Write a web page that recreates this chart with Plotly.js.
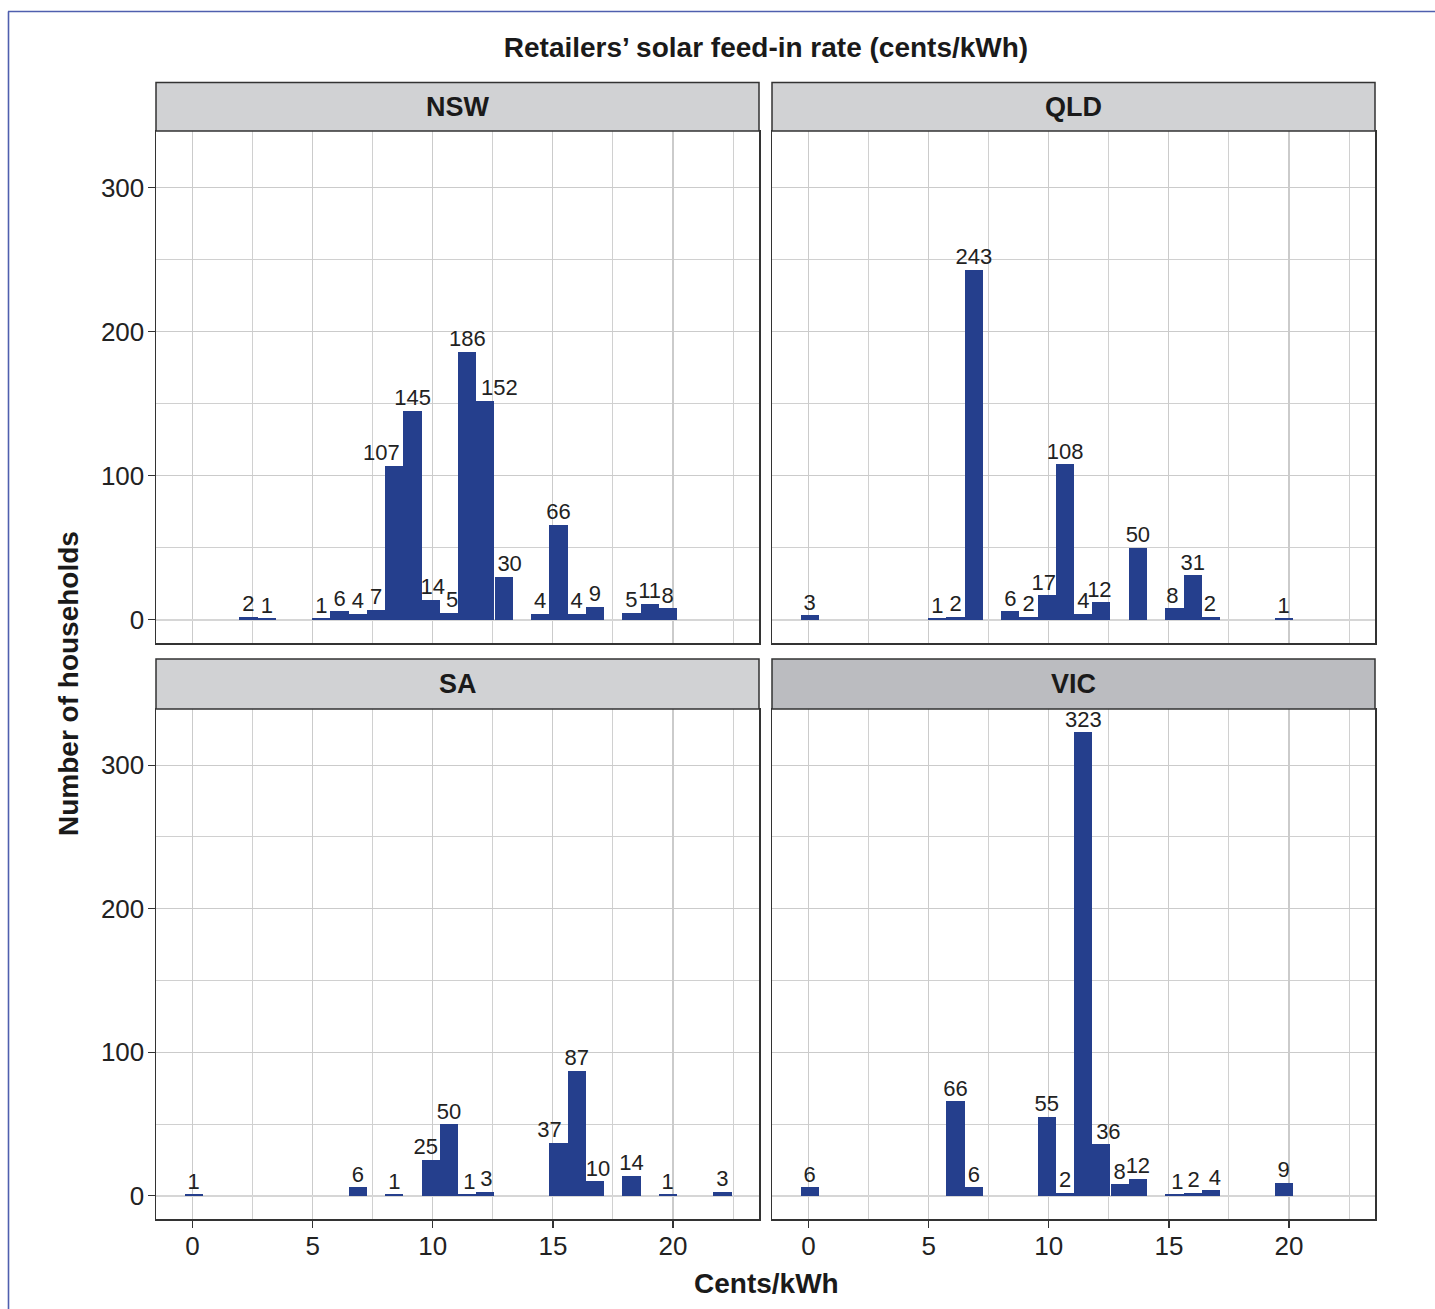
<!DOCTYPE html>
<html>
<head>
<meta charset="utf-8">
<script src="https://cdn.plot.ly/plotly-3.0.1.min.js"></script>
<style>
  html, body { margin: 0; padding: 0; background: #ffffff; }
  #chart { width: 1435px; height: 1309px; }
</style>
</head>
<body>
<div id="chart"></div>
<script>
// ---- Data (bin centre in cents/kWh, number of households) ----
const states = ["NSW", "QLD", "SA", "VIC"];

const nswRate  = [2.33, 3.09, 5.36, 6.12, 6.88, 7.64, 8.40, 9.16, 9.92, 10.68, 11.44, 12.19, 12.95, 14.47, 15.23, 15.99, 16.75, 18.27, 19.03, 19.78];
const nswCount = [2, 1, 1, 6, 4, 7, 107, 145, 14, 5, 186, 152, 30, 4, 66, 4, 9, 5, 11, 8];

const qldRate  = [0.05, 5.36, 6.12, 6.88, 8.40, 9.16, 9.92, 10.68, 11.44, 12.19, 13.71, 15.23, 15.99, 16.75, 19.78];
const qldCount = [3, 1, 2, 243, 6, 2, 17, 108, 4, 12, 50, 8, 31, 2, 1];

const saRate   = [0.05, 6.88, 8.40, 9.92, 10.68, 11.44, 12.19, 15.23, 15.99, 16.75, 18.27, 19.78, 22.06];
const saCount  = [1, 6, 1, 25, 50, 1, 3, 37, 87, 10, 14, 1, 3];

const vicRate  = [0.05, 6.12, 6.88, 9.92, 10.68, 11.44, 12.19, 12.95, 13.71, 15.23, 15.99, 16.75, 19.78];
const vicCount = [6, 66, 6, 55, 2, 323, 36, 8, 12, 1, 2, 4, 9];

const xTickVals = [0, 5, 10, 15, 20];
const xTickText = ["0", "5", "10", "15", "20"];
const yTickVals = [0, 100, 200, 300];
const yTickText = ["0", "100", "200", "300"];

const titleText = "Retailers\u2019 solar feed-in rate (cents/kWh)";
const xTitleText = "Cents/kWh";
const yTitleText = "Number of households";

// ---- Styling ----
const W = 1435, H = 1309;
const FONT = "Liberation Sans, Arial, Helvetica, sans-serif";
const BAR = "#253f8d";
const BINW = 0.759;
const PX_PER_UNIT = 24.02;
const px = v => v / W;
const py = v => 1 - v / H;

// horizontal label nudges (pixels) so overlapping count labels sit apart, as in the original
const labelNudgePx = [
  [0, 0, 0, 0, 0, 0, -13, 0, 2, 3, 0, 14, 6, 0, 0, 0, 0, 0, 0, 0],
  [0, 0, 0, 0, 0, 0, -3, 0, 0, -2, 0, -2, 0, -1, 0],
  [0, 0, 0, -5, 0, 2, 1, -9, 0, 3, 0, 0, 0],
  [0, 0, 0, 0, 0, 0, 7, 0, 0, 3, 1, 4, 0]
];

// panel pixel geometry
const colX = [[156, 759], [772, 1375]];
const rowY = [[131, 643], [709, 1219]];   // plot area top/bottom
const stripY = [[82.5, 131], [659, 709]];
const stripFill = ["#d1d2d4", "#d1d2d4", "#d1d2d4", "#bbbcc0"];

const rates = [nswRate, qldRate, saRate, vicRate];
const counts = [nswCount, qldCount, saCount, vicCount];

const traces = [];
const layout = {
  width: W, height: H,
  margin: {l: 0, r: 0, t: 0, b: 0},
  paper_bgcolor: "#ffffff",
  plot_bgcolor: "#ffffff",
  showlegend: false,
  bargap: 0,
  font: {family: FONT, color: "#222222"},
  title: {
    text: titleText,
    font: {family: FONT, size: 28, color: "#1a1a1a", weight: "bold"},
    xref: "container", yref: "container",
    x: 766 / W, y: 1 - 47 / H, xanchor: "center", yanchor: "middle"
  },
  shapes: [],
  annotations: []
};

states.forEach((st, i) => {
  const col = i % 2, row = Math.floor(i / 2);
  const n = i + 1;
  const xa = "x" + (n === 1 ? "" : n);
  const ya = "y" + (n === 1 ? "" : n);
  traces.push({
    type: "bar",
    x: rates[i], y: counts[i],
    width: BINW,
    marker: {color: BAR, line: {width: 0}},
    xaxis: xa, yaxis: ya,
    hoverinfo: "x+y"
  });
  traces.push({
    type: "scatter", mode: "text",
    x: rates[i].map((r, j) => r + labelNudgePx[i][j] / PX_PER_UNIT),
    y: counts[i],
    text: counts[i].map(String),
    textposition: "top center",
    textfont: {family: FONT, size: 22, color: "#222222"},
    cliponaxis: false,
    xaxis: xa, yaxis: ya,
    hoverinfo: "skip"
  });

  const xKey = "xaxis" + (n === 1 ? "" : n);
  const yKey = "yaxis" + (n === 1 ? "" : n);
  layout[xKey] = {
    domain: [px(colX[col][0]), px(colX[col][1])],
    anchor: ya,
    range: [-1.52, 23.58],
    tickmode: "array", tickvals: xTickVals, ticktext: xTickText,
    showticklabels: row === 1,
    ticks: row === 1 ? "outside" : "",
    ticklen: 7, tickwidth: 1.3, tickcolor: "#333333",
    ticklabelstandoff: -4,
    tickfont: {family: FONT, size: 26, color: "#222222"},
    showgrid: true, gridcolor: "#cbcbcb", gridwidth: 1.2,
    minor: {tickvals: [2.5, 7.5, 12.5, 17.5, 22.5], showgrid: true, gridcolor: "#d0d0d0", gridwidth: 1, ticks: ""},
    zeroline: false,
    showline: true, mirror: true, linecolor: "#333333", linewidth: 1.5,
    fixedrange: true
  };
  layout[yKey] = {
    domain: [py(rowY[row][1]), py(rowY[row][0])],
    anchor: xa,
    range: [-16.15, 339.15],
    tickmode: "array", tickvals: yTickVals, ticktext: yTickText,
    showticklabels: col === 0,
    ticks: col === 0 ? "outside" : "",
    ticklen: 7, tickwidth: 1.3, tickcolor: "#333333",
    ticklabelstandoff: -2,
    tickfont: {family: FONT, size: 26, color: "#222222"},
    showgrid: true, gridcolor: "#cbcbcb", gridwidth: 1.2,
    minor: {tickvals: [50, 150, 250], showgrid: true, gridcolor: "#d0d0d0", gridwidth: 1, ticks: ""},
    zeroline: true, zerolinecolor: "#d6d6d6", zerolinewidth: 2.2,
    showline: true, mirror: true, linecolor: "#333333", linewidth: 1.5,
    fixedrange: true
  };

  // strip
  layout.shapes.push({
    type: "rect", xref: "paper", yref: "paper", layer: "above",
    x0: px(colX[col][0]), x1: px(colX[col][1]),
    y0: py(stripY[row][1]), y1: py(stripY[row][0]),
    fillcolor: stripFill[i],
    line: {color: "#333333", width: 1.5}
  });
  layout.annotations.push({
    xref: "paper", yref: "paper",
    x: px((colX[col][0] + colX[col][1]) / 2),
    y: py((stripY[row][0] + stripY[row][1]) / 2),
    xanchor: "center", yanchor: "middle",
    text: "<b>" + st + "</b>", showarrow: false,
    font: {family: FONT, size: 27, color: "#1a1a1a"}
  });
});

// axis titles
layout.annotations.push({
  xref: "paper", yref: "paper", x: px(766), y: py(1283),
  xanchor: "center", yanchor: "middle", showarrow: false,
  text: "<b>" + xTitleText + "</b>",
  font: {family: FONT, size: 28, color: "#1a1a1a"}
});
layout.annotations.push({
  xref: "paper", yref: "paper", x: px(68), y: py(684),
  xanchor: "center", yanchor: "middle", showarrow: false, textangle: -90,
  text: "<b>" + yTitleText + "</b>",
  font: {family: FONT, size: 28, color: "#1a1a1a"}
});

// outer frame (blue rule at top and left)
layout.shapes.push({type: "line", xref: "paper", yref: "paper", x0: px(8.5), x1: px(8.5), y0: 0, y1: py(11.5), line: {color: "#4f5fae", width: 1.6}});
layout.shapes.push({type: "line", xref: "paper", yref: "paper", x0: px(8), x1: 1, y0: py(11.5), y1: py(11.5), line: {color: "#4f5fae", width: 1.6}});

Plotly.newPlot("chart", traces, layout, {displayModeBar: false, staticPlot: true});
</script>
</body>
</html>
